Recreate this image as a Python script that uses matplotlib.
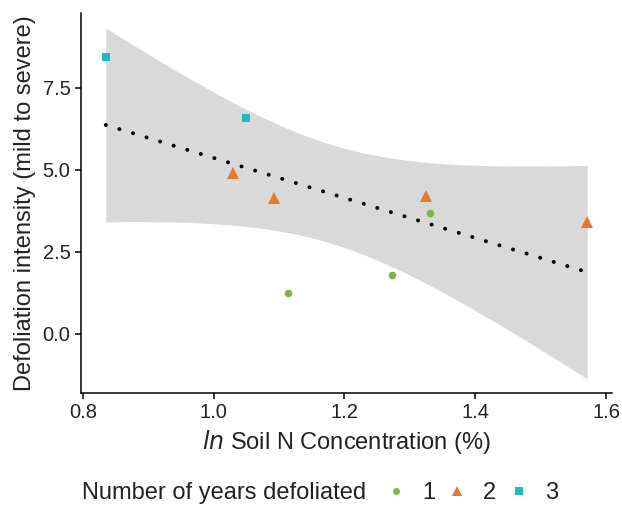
import numpy as np
import matplotlib
matplotlib.use("Agg")
import matplotlib.pyplot as plt
from matplotlib.lines import Line2D

plt.rcParams['font.family'] = ['Liberation Sans', 'DejaVu Sans']

# data
soil_n = [0.835, 1.049, 1.029, 1.093, 1.325, 1.571, 1.330, 1.114, 1.272]
defol = [8.45, 6.59, 4.90, 4.15, 4.20, 3.41, 3.69, 1.25, 1.80]
years = [3, 3, 2, 2, 2, 2, 1, 1, 1]

groups = ['1', '2', '3']
colors = {'1': '#7AB648', '2': '#E07B30', '3': '#22B8C4'}
markers = {'1': 'o', '2': '^', '3': 's'}
msize = {'1': 5.5, '2': 8, '3': 6}

x = np.array(soil_n)
y = np.array(defol)
n = len(x)
b1, b0 = np.polyfit(x, y, 1)
xs = np.linspace(x.min(), x.max(), 80)
yhat = b0 + b1 * xs
resid = y - (b0 + b1 * x)
s = np.sqrt(np.sum(resid ** 2) / (n - 2))
sxx = np.sum((x - x.mean()) ** 2)
tcrit = 2.3646  # t(0.975, df=7)
se = s * np.sqrt(1 / n + (xs - x.mean()) ** 2 / sxx)

fig = plt.figure(figsize=(6.22, 5.09), dpi=100)
ax = fig.add_axes([0.130, 0.228, 0.854, 0.746])
ax.fill_between(xs, yhat - tcrit * se, yhat + tcrit * se, color='#D9D9D9', lw=0, zorder=1)
ax.plot(xs, yhat, color='black', lw=2.8, linestyle=(0, (0.05, 3.6)), dash_capstyle='round', zorder=2)

for g in groups:
    xi = [a for a, k in zip(soil_n, years) if str(k) == g]
    yi = [b for b, k in zip(defol, years) if str(k) == g]
    ax.plot(xi, yi, linestyle='none', marker=markers[g], color=colors[g],
            markersize=msize[g], markeredgewidth=0, zorder=3)

ax.set_xlim(0.797, 1.609)
ax.set_ylim(-1.8, 9.78)
ax.set_xticks([0.8, 1.0, 1.2, 1.4, 1.6])
ax.set_xticklabels(['0.8', '1.0', '1.2', '1.4', '1.6'])
ax.set_yticks([0.0, 2.5, 5.0, 7.5])
ax.set_yticklabels(['0.0', '2.5', '5.0', '7.5'])
for sp in ['top', 'right']:
    ax.spines[sp].set_visible(False)
for sp in ['left', 'bottom']:
    ax.spines[sp].set_linewidth(1.1)
ax.tick_params(axis='both', labelsize=14.5, colors='black', width=1.1, length=4.5, pad=3)
ax.tick_params(axis='both', labelcolor='#222222')
ax.set_xlabel(r'$\mathit{ln}$ Soil N Concentration (%)', fontsize=17, labelpad=4)
ax.set_ylabel('Defoliation intensity (mild to severe)', fontsize=17, labelpad=5)
ax.xaxis.label.set_color('#222222')
ax.yaxis.label.set_color('#222222')

legy = 1 - 493 / 509
fig.text(82 / 622, legy, 'Number of years defoliated', fontsize=17, color='#222222',
         ha='left', va='center')
handles = [Line2D([], [], linestyle='none', marker=markers[g], color=colors[g],
                  markersize=msize[g] - 0.5, markeredgewidth=0) for g in groups]
fig.legend(handles, groups, loc='center left', bbox_to_anchor=(384 / 622, legy),
           ncol=3, frameon=False, fontsize=17, handlelength=1.0, handletextpad=0.6,
           columnspacing=0.45, borderpad=0, borderaxespad=0, labelcolor='#222222')

fig.savefig('out.png', dpi=100)
